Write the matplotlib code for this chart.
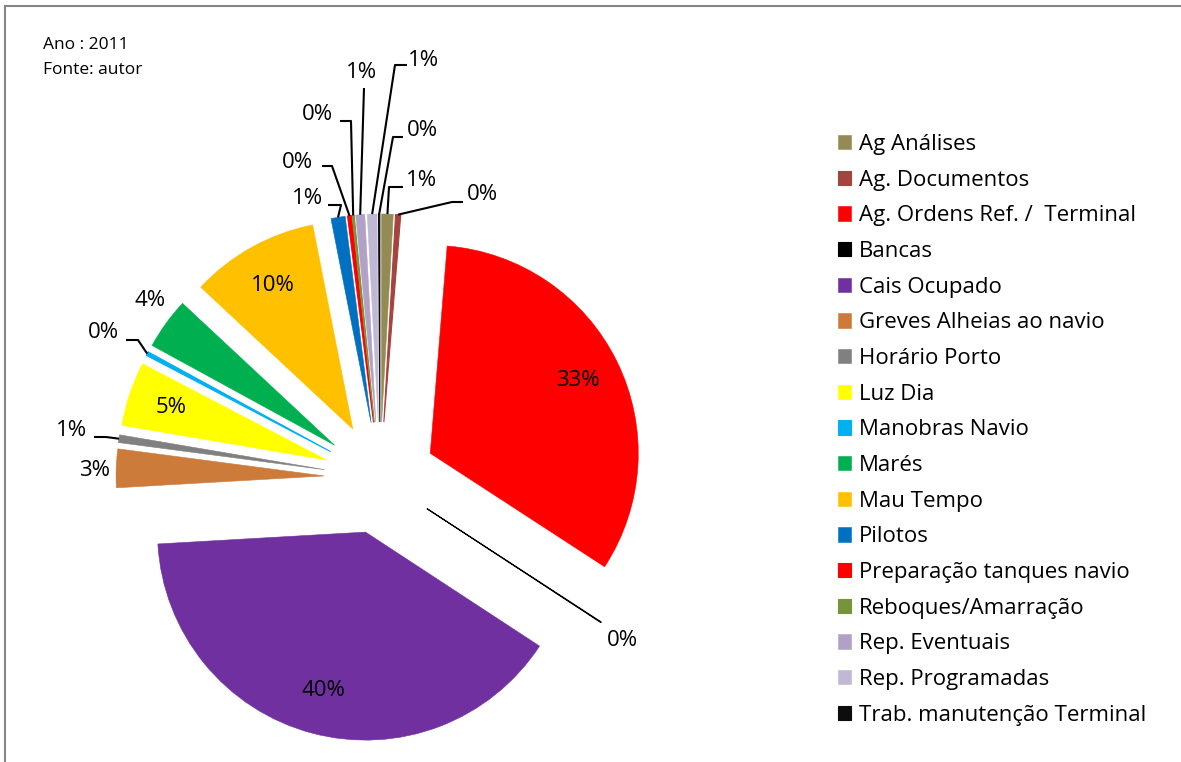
import matplotlib
matplotlib.use('Agg')
import matplotlib.pyplot as plt
from matplotlib.patches import Rectangle
import numpy as np

plt.rcParams['font.family'] = ['Open Sans', 'DejaVu Sans']

# dados (percentagens)
categorias = ["Ag Análises", "Ag. Documentos", "Ag. Ordens Ref. /  Terminal", "Bancas",
              "Cais Ocupado", "Greves Alheias ao navio", "Horário Porto", "Luz Dia",
              "Manobras Navio", "Marés", "Mau Tempo", "Pilotos",
              "Preparação tanques navio", "Reboques/Amarração", "Rep. Eventuais",
              "Rep. Programadas", "Trab. manutenção Terminal"]
valores = [0.9, 0.4, 33.0, 0.05, 40.0, 3.0, 0.6, 5.0, 0.3, 4.0, 10.0, 1.1,
           0.3, 0.15, 0.7, 0.75, 0.1]
cores = ["#948A54", "#A5433F", "#FF0000", "#000000", "#7030A0", "#CD7B3A",
         "#808080", "#FFFF00", "#00B0F0", "#00B050", "#FFC000", "#0070C0",
         "#FF0000", "#77933C", "#B2A1C7", "#C0B8D4", "#0D0D0D"]

W, H = 1181, 762


def py(y):
    # converte y em pixels (origem no topo) para coordenadas do eixo
    return H - y


# rotulos fora da fatia: posicao do texto e cotovelo da linha de chamada (pixels)
rotulos_fora = {
    0: ((422, 180), [(403, 187), (389, 187)]),
    1: ((482, 195), [(463, 202), (452, 202)]),
    3: ((622, 641), None),
    5: ((95, 470), None),
    6: ((72, 431), [(94, 437), (106, 437)]),
    8: ((103, 332), [(126, 340), (138, 340)]),
    9: ((150, 301), None),
    11: ((307, 198), [(328, 205), (341, 205)]),
    12: ((297, 162), [(322, 166), (332, 166)]),
    13: ((317, 114), [(340, 121), (351, 121)]),
    14: ((362, 73), [(364, 88), (364, 88)]),
    15: ((424, 61), [(407, 65), (395, 65)]),
    16: ((422, 130), [(403, 137), (393, 137)]),
}

fig = plt.figure(figsize=(W / 100, H / 100), dpi=100)
ax = fig.add_axes([0, 0, 1, 1])

raio = 208
wedges, texts, autotexts = ax.pie(
    valores, explode=[56] * len(valores), colors=cores,
    center=(380, py(478)), radius=raio, startangle=90, counterclock=False,
    autopct='%.0f%%', pctdistance=0.79,
    wedgeprops=dict(linewidth=0.4),
    textprops=dict(fontsize=16, color='black'))
for w, c, v in zip(wedges, cores, valores):
    w.set_edgecolor(c)
    if v < 0.5:
        w.set_linewidth(0.8)

ax.set_xlim(0, W)
ax.set_ylim(0, H)
ax.set_aspect('equal')
ax.axis('off')

for i, (pos, cot) in rotulos_fora.items():
    t = autotexts[i]
    t.set_position((pos[0], py(pos[1])))
    t.set_ha('center')
    t.set_va('center')
    if cot is None:
        continue
    w = wedges[i]
    ang = np.deg2rad((w.theta1 + w.theta2) / 2)
    ax_x = w.center[0] + w.r * np.cos(ang)
    ax_y = w.center[1] + w.r * np.sin(ang)
    xs = [cot[0][0], cot[1][0], ax_x]
    ys = [py(cot[0][1]), py(cot[1][1]), ax_y]
    ax.plot(xs, ys, color='black', lw=1.5, solid_capstyle='butt')

ax.legend(wedges, categorias, loc='upper left', bbox_to_anchor=(838 / W, 1 - 134 / H),
          frameon=False, fontsize=16, handlelength=0.6, handleheight=0.6,
          handletextpad=0.35, labelspacing=0.66, borderpad=0, borderaxespad=0)

fig.text(43 / W, 1 - 45 / H, "Ano : 2011", fontsize=12.5, va='center')
fig.text(43 / W, 1 - 70 / H, "Fonte: autor", fontsize=12.5, va='center')

fig.add_artist(Rectangle((5 / W, -0.1), 1.2, 1.1 - 6 / H, transform=fig.transFigure,
                         fill=False, edgecolor='#868686', lw=1.5))

fig.savefig('out.png', dpi=100)
